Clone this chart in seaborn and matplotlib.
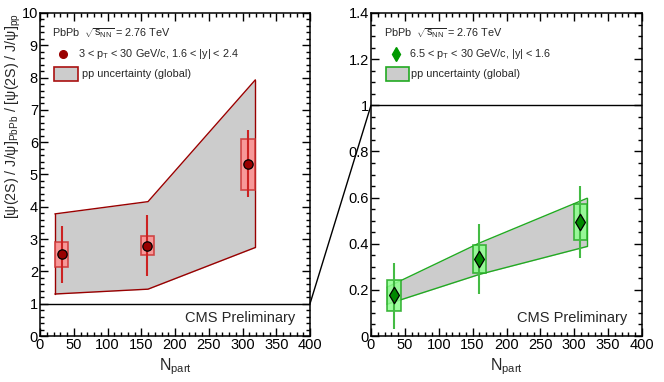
import matplotlib
matplotlib.use("Agg")
import matplotlib.pyplot as plt
import seaborn as sns
import numpy as np
import pandas as pd
from matplotlib.patches import Rectangle, ConnectionPatch
from matplotlib.ticker import MultipleLocator, FuncFormatter

# ---------------- data ----------------
left_x = [32, 159, 308]
left_y = [2.54, 2.80, 5.33]
left_err_lo = [1.65, 1.85, 4.30]
left_err_hi = [3.40, 3.76, 6.38]
left_sys_lo = [2.14, 2.51, 4.53]
left_sys_hi = [2.92, 3.10, 6.11]
left_band_x = [22, 160, 319]
left_band_lo = [1.30, 1.45, 2.74]
left_band_hi = [3.78, 4.16, 7.93]

right_x = [34, 160, 309]
right_y = [0.176, 0.334, 0.493]
right_err_lo = [0.030, 0.182, 0.337]
right_err_hi = [0.318, 0.486, 0.651]
right_sys_lo = [0.108, 0.272, 0.415]
right_sys_hi = [0.242, 0.395, 0.571]
right_band_x = [24, 160, 319]
right_band_lo = [0.138, 0.267, 0.388]
right_band_hi = [0.212, 0.403, 0.597]

x_ticks = [0, 50, 100, 150, 200, 250, 300, 350, 400]
left_yticks = [0, 1, 2, 3, 4, 5, 6, 7, 8, 9, 10]
right_yticks = [0, 0.2, 0.4, 0.6, 0.8, 1.0, 1.2, 1.4]

energy_text = r"PbPb  $\sqrt{s_{NN}}$ = 2.76 TeV"
left_label = r"3 < p$_{T}$ < 30 GeV/c, 1.6 < |y| < 2.4"
right_label = r"6.5 < p$_{T}$ < 30 GeV/c, |y| < 1.6"
band_label = "pp uncertainty (global)"
ylabel = r"[ψ(2S) / J/ψ]$_{PbPb}$ / [ψ(2S) / J/ψ]$_{pp}$"
xlabel = r"N$_{part}$"

# ---------------- style ----------------
sns.set_theme(style="ticks")
plt.rcParams['font.family'] = ['Liberation Sans', 'DejaVu Sans']
plt.rcParams['mathtext.fontset'] = 'custom'
plt.rcParams['mathtext.rm'] = 'Liberation Sans'
plt.rcParams['mathtext.it'] = 'Liberation Sans'
plt.rcParams['mathtext.default'] = 'regular'

W, H = 664, 382
fig = plt.figure(figsize=(W / 100, H / 100), dpi=100)
fig.patch.set_facecolor('white')

axL = fig.add_axes([40 / W, (H - 336) / H, 270 / W, 323 / H])
axR = fig.add_axes([371 / W, (H - 336) / H, 271 / W, 323 / H])


def fmt_right(v, pos):
    s = f"{v:.1f}"
    if s.endswith(".0"):
        s = s[:-2]
    return s


def setup(ax, ymax, yminor, yticks, fmt):
    ax.set_xlim(0, 400)
    ax.set_ylim(0, ymax)
    ax.set_facecolor('white')
    ax.set_xticks(x_ticks)
    ax.set_yticks(yticks)
    ax.xaxis.set_minor_locator(MultipleLocator(10))
    ax.yaxis.set_minor_locator(MultipleLocator(yminor))
    ax.yaxis.set_major_formatter(FuncFormatter(fmt))
    ax.tick_params(which='both', direction='in', top=True, right=True,
                   labelsize=10.5, colors='black', width=1)
    ax.tick_params(which='major', length=6, pad=1.5)
    ax.tick_params(which='minor', length=3)
    for sp in ax.spines.values():
        sp.set_linewidth(1.1)
        sp.set_color('black')
    ax.axhline(1, color='black', lw=1.0, zorder=2)


setup(axL, 10, 0.2, left_yticks, lambda v, p: f"{int(round(v))}")
setup(axR, 1.4, 0.05, right_yticks, fmt_right)


def draw_panel(ax, xs, ys, elo, ehi, slo, shi, bx, blo, bhi,
               band_edge, box_fill, box_edge, err_col, mcol, marker, msize):
    ax.fill_between(bx, blo, bhi, color='#cccccc', lw=0, zorder=1)
    ax.plot(bx, blo, color=band_edge, lw=1.0, zorder=1.5)
    ax.plot(bx, bhi, color=band_edge, lw=1.0, zorder=1.5)
    ax.plot([bx[0], bx[0]], [blo[0], bhi[0]], color=band_edge, lw=1.0, zorder=1.5)
    ax.plot([bx[-1], bx[-1]], [blo[-1], bhi[-1]], color=band_edge, lw=1.0, zorder=1.5)
    for x, lo, hi in zip(xs, slo, shi):
        ax.add_patch(Rectangle((x - 10, lo), 20, hi - lo, facecolor=box_fill,
                               edgecolor=box_edge, lw=1.2, alpha=0.85, zorder=3))
    ax.vlines(xs, elo, ehi, color=err_col, lw=1.5, zorder=4)
    df = pd.DataFrame({'x': xs, 'y': ys})
    sns.scatterplot(data=df, x='x', y='y', ax=ax, marker=marker, s=msize,
                    color=mcol, edgecolor='black', linewidth=0.9, zorder=5,
                    legend=False)


draw_panel(axL, left_x, left_y, left_err_lo, left_err_hi, left_sys_lo, left_sys_hi,
           left_band_x, left_band_lo, left_band_hi,
           '#990000', '#ff8f8f', '#cc3333', '#cc2222', '#990000', 'o', 45)
draw_panel(axR, right_x, right_y, right_err_lo, right_err_hi, right_sys_lo, right_sys_hi,
           right_band_x, right_band_lo, right_band_hi,
           '#22aa22', '#8fff8f', '#22aa22', '#44bb44', '#008800', 'd', 70)

for ax in (axL, axR):
    ax.set_xlabel(xlabel, fontsize=11.5)
    ax.xaxis.set_label_coords(0.5, -0.063)
axL.set_ylabel(ylabel, fontsize=10.3, loc='top')
axL.yaxis.set_label_coords(-0.064, 1.0)
axR.set_ylabel("")


def legend(ax, x_text1, x_mark, x_text2, box_x0, box_x1, x_text3,
           label, mcol, marker, ms, box_edge):
    ax.text(x_text1, 0.938, energy_text, transform=ax.transAxes, fontsize=7.8,
            va='center', ha='left')
    ax.plot([x_mark], [0.874], transform=ax.transAxes, marker=marker, ms=ms,
            color=mcol, mec=mcol, ls='none', clip_on=False)
    ax.text(x_text2, 0.874, label, transform=ax.transAxes, fontsize=7.8,
            va='center', ha='left')
    ax.add_patch(Rectangle((box_x0, 0.789), box_x1 - box_x0, 0.044,
                           transform=ax.transAxes, facecolor='#cccccc',
                           edgecolor=box_edge, lw=1.2, clip_on=False))
    ax.text(x_text3, 0.811, band_label, transform=ax.transAxes, fontsize=7.8,
            va='center', ha='left')
    ax.text(0.944, 0.056, "CMS Preliminary", transform=ax.transAxes,
            fontsize=10.5, ha='right', va='center')


legend(axL, 0.044, 0.085, 0.141, 0.052, 0.141, 0.156, left_label,
       '#990000', 'o', 5.5, '#aa1111')
legend(axR, 0.048, 0.092, 0.140, 0.055, 0.140, 0.148, right_label,
       '#009900', 'd', 7, '#22aa22')

con = ConnectionPatch(xyA=(400, 1), coordsA=axL.transData,
                      xyB=(0, 1), coordsB=axR.transData,
                      color='black', lw=1.0)
fig.add_artist(con)

fig.savefig("out.png", dpi=100, facecolor='white')
